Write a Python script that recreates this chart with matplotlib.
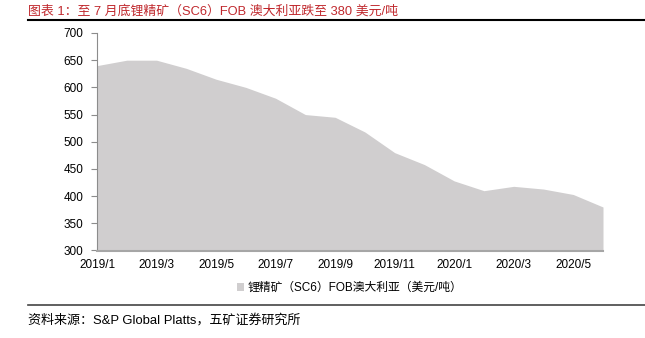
import matplotlib
matplotlib.use('Agg')
from matplotlib import pyplot as plt
from matplotlib.lines import Line2D
from matplotlib.patches import Patch

plt.rcParams['font.family'] = ['Liberation Sans', 'Noto Sans CJK SC', 'DejaVu Sans']

months = ['2019/1', '2019/2', '2019/3', '2019/4', '2019/5', '2019/6',
          '2019/7', '2019/8', '2019/9', '2019/10', '2019/11', '2019/12',
          '2020/1', '2020/2', '2020/3', '2020/4', '2020/5', '2020/6']
price = [640, 650, 650, 635, 615, 600, 580, 550, 545, 518, 480, 458,
         428, 410, 418, 413, 403, 380]
y_ticks = [300, 350, 400, 450, 500, 550, 600, 650, 700]

title = '图表 1：至 7 月底锂精矿（SC6）FOB 澳大利亚跌至 380 美元/吨'
series_name = '锂精矿（SC6）FOB澳大利亚（美元/吨）'
source = '资料来源：S&P Global Platts，五矿证券研究所'

fill_color = '#d0cecf'


def make_plot():
    fig = plt.figure(figsize=(6.45, 3.38), dpi=100)
    ax = fig.add_axes([97 / 645, 1 - 250.5 / 338, 506 / 645, 217.5 / 338])

    x = list(range(len(months)))
    ax.fill_between(x, price, 300, color=fill_color, linewidth=0)
    ax.set_xlim(0, len(months) - 1)
    ax.set_ylim(300, 700)
    ax.set_yticks(y_ticks)
    ax.set_xticks(x[::2])
    ax.set_xticklabels(months[::2])

    for s in ['top', 'right']:
        ax.spines[s].set_visible(False)
    ax.spines['left'].set_color('#8c8c8c')
    ax.spines['left'].set_linewidth(0.8)
    ax.spines['bottom'].set_color('#a6a6a6')
    ax.spines['bottom'].set_linewidth(1.5)
    ax.tick_params(axis='y', length=4, width=0.8, color='#8c8c8c',
                   labelsize=8.5, pad=6)
    ax.tick_params(axis='x', length=0, labelsize=8.5, pad=6)

    handle = Patch(facecolor=fill_color, edgecolor='none')
    fig.legend([handle], [series_name], loc='center', bbox_to_anchor=(350 / 645, 1 - 288 / 338),
               frameon=False, fontsize=8.5, handlelength=0.6, handleheight=0.6,
               handletextpad=0.3)

    # title, rules and source
    fig.text(28 / 645, 1 - 11 / 338, title, color='#c0282d', fontsize=9.3,
             va='center', ha='left')
    fig.add_artist(Line2D([28 / 645, 1], [1 - 20 / 338] * 2, color='black', lw=1.5))
    fig.add_artist(Line2D([28 / 645, 1], [1 - 305 / 338] * 2, color='#444444', lw=1.2))
    fig.text(28 / 645, 1 - 320 / 338, source, color='black', fontsize=9.4,
             va='center', ha='left')

    fig.savefig('out.png', dpi=100)
    plt.close(fig)


if __name__ == "__main__":
    make_plot()
